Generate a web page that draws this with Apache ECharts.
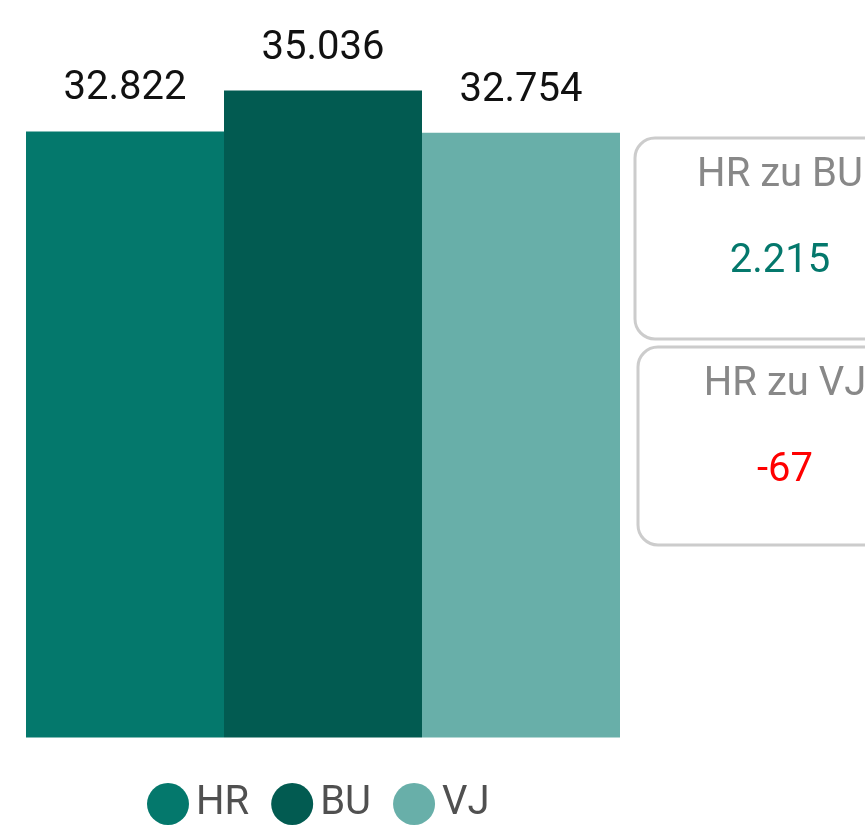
<!DOCTYPE html>
<html>
<head>
<meta charset="utf-8">
<script src="https://cdn.jsdelivr.net/npm/echarts@6/dist/echarts.min.js"></script>
<style>html,body{margin:0;padding:0;background:#fff}#c{width:865px;height:826px}</style>
</head>
<body>
<div id="c"></div>
<script>
var seriesNames = ['HR', 'BU', 'VJ'];
var seriesValues = [32822, 35036, 32754];
var seriesColors = ['#04786C', '#025B51', '#68AFA9'];
var cardTitles = ['HR zu BU', 'HR zu VJ'];
var cardValues = ['2.215', '-67'];
var cardColors = ['#04786C', '#FF0000'];

var FONT = 'Roboto';
function fmt(v) {
  return String(v).replace(/\B(?=(\d{3})+(?!\d))/g, '.');
}
var chart = echarts.init(document.getElementById('c'));
var series = seriesNames.map(function (n, i) {
  return {
    name: n,
    type: 'bar',
    data: [seriesValues[i]],
    barGap: '0%',
    barCategoryGap: '0%',
    itemStyle: { color: seriesColors[i] },
    label: {
      show: true, position: 'top', distance: 22,
      formatter: function (p) { return fmt(p.value); },
      fontFamily: FONT, fontSize: 40, color: '#111'
    }
  };
});
var graphics = [];
var cards = [
  { x: 635, y: 138, h: 201, cx: 780, ty: 176, vy: 262 },
  { x: 638, y: 347, h: 198, cx: 785, ty: 385, vy: 471 }
];
cards.forEach(function (c, i) {
  graphics.push({
    type: 'rect', shape: { x: c.x, y: c.y, width: 292, height: c.h, r: 20 },
    style: { fill: '#fff', stroke: '#CCCCCC', lineWidth: 3 }
  });
  graphics.push({
    type: 'text', x: c.cx, y: c.ty,
    style: { text: cardTitles[i], fill: '#888888', font: '40px ' + FONT, textAlign: 'center', textVerticalAlign: 'middle' }
  });
  graphics.push({
    type: 'text', x: c.cx, y: c.vy,
    style: { text: cardValues[i], fill: cardColors[i], font: '40px ' + FONT, textAlign: 'center', textVerticalAlign: 'middle' }
  });
});
chart.setOption({
  animation: false,
  grid: { left: 26, right: 245, top: 90.5, bottom: 88.5, containLabel: false },
  xAxis: { type: 'category', data: [''], show: false },
  yAxis: { type: 'value', min: 0, max: Math.max.apply(null, seriesValues), show: false },
  legend: {
    data: seriesNames, left: 142, top: 778, icon: 'circle',
    itemWidth: 42, itemHeight: 42, itemGap: 22,
    textStyle: { fontFamily: FONT, fontSize: 40, color: '#505050', padding: [0, 0, 0, 2] }
  },
  series: series,
  graphic: graphics
});
</script>
</body>
</html>
